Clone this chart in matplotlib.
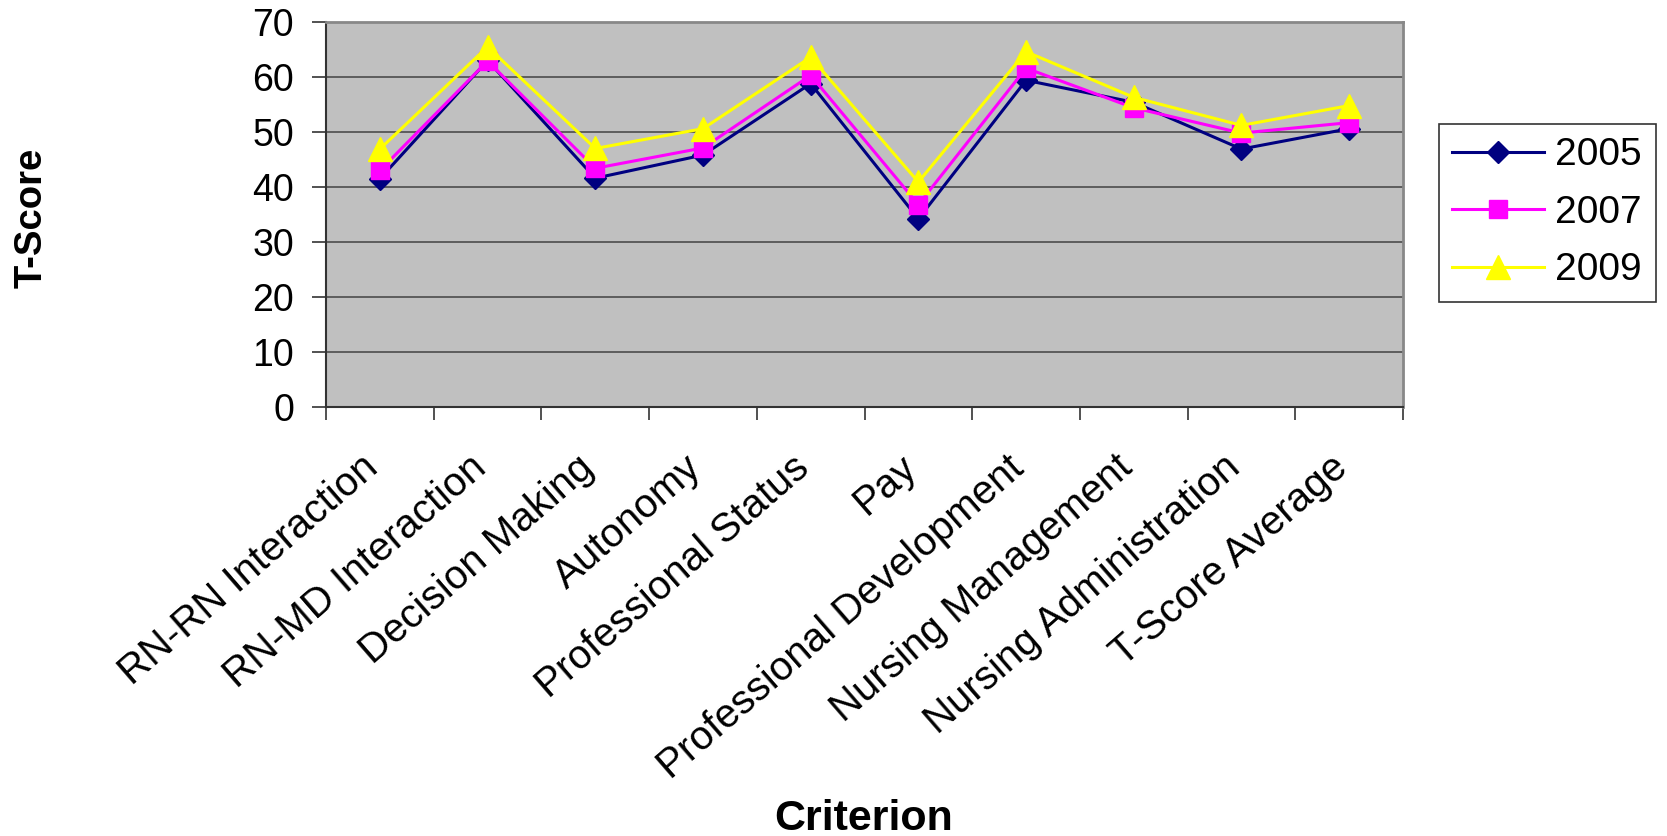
import matplotlib
matplotlib.use("Agg")
import matplotlib.pyplot as plt
import matplotlib.transforms as mtransforms
import numpy as np

categories = ["RN-RN Interaction", "RN-MD Interaction", "Decision Making", "Autonomy",
              "Professional Status", "Pay", "Professional Development",
              "Nursing Management", "Nursing Administration", "T-Score Average"]
s2005 = [41.5, 63.0, 41.6, 45.8, 58.8, 34.2, 59.4, 55.4, 46.9, 50.6]
s2007 = [43.0, 62.9, 43.4, 47.1, 60.3, 36.8, 61.6, 54.4, 49.8, 51.7]
s2009 = [46.9, 65.5, 47.0, 50.6, 63.6, 40.9, 64.6, 56.3, 51.2, 54.8]
yticks = [0, 10, 20, 30, 40, 50, 60, 70]

plt.rcParams['font.family'] = ['Liberation Sans', 'DejaVu Sans']

fig = plt.figure(figsize=(16.67, 8.36), dpi=100)
ax = fig.add_axes([0.1956, 0.5132, 0.646, 0.4605])
ax.set_facecolor('#C0C0C0')

x = np.arange(len(categories))
ax.plot(x, s2005, color='#000080', lw=2.2, marker='D', ms=11, label='2005', zorder=3)
ax.plot(x, s2007, color='#FF00FF', lw=2.2, marker='s', ms=13, label='2007', zorder=4)
ax.plot(x, s2009, color='#FFFF00', lw=2.2, marker='^', ms=17, label='2009', zorder=5)

ax.set_xlim(-0.5, len(categories) - 0.5)
ax.set_ylim(0, 70)
ax.set_yticks(yticks)
ax.set_yticklabels([str(v) for v in yticks], fontsize=27)
for v in yticks[1:]:
    ax.axhline(v, color='#555555', lw=1.3, zorder=1)

ax.set_xticks(np.arange(-0.5, len(categories), 1.0))
ax.set_xticklabels([])
ax.set_xticks(x, minor=True)
ax.set_xticklabels(categories, minor=True, rotation=41, ha='right', va='center',
                   rotation_mode='anchor', fontsize=29)
ax.tick_params(axis='x', which='minor', length=0, pad=40)
ax.tick_params(axis='x', which='major', length=9, width=1.2, direction='out', color='#333333')
ax.tick_params(axis='y', length=10, width=1.2, direction='out', color='#333333', pad=13)

offset = mtransforms.ScaledTranslation(-7 / 100, 0, fig.dpi_scale_trans)
for lab in ax.xaxis.get_minorticklabels():
    lab.set_transform(lab.get_transform() + offset)

for side in ['left', 'bottom']:
    ax.spines[side].set_color('#333333')
    ax.spines[side].set_linewidth(1.5)
for side in ['right', 'top']:
    ax.spines[side].set_color('#888888')
    ax.spines[side].set_linewidth(2)

fig.text(0.019, 0.739, 'T-Score', fontsize=27.5, fontweight='bold', rotation=90,
         ha='center', va='center')
fig.text(0.518, 0.02, 'Criterion', fontsize=31, fontweight='bold', ha='center', va='center')

leg = fig.legend(loc='upper left', bbox_to_anchor=(0.863, 0.852), fontsize=28,
                 frameon=True, fancybox=False, edgecolor='black', handlelength=2.35,
                 borderpad=0.35, labelspacing=0.55, handletextpad=0.3, borderaxespad=0)
leg.get_frame().set_linewidth(1.2)

fig.savefig('out.png', dpi=100, facecolor='white')
